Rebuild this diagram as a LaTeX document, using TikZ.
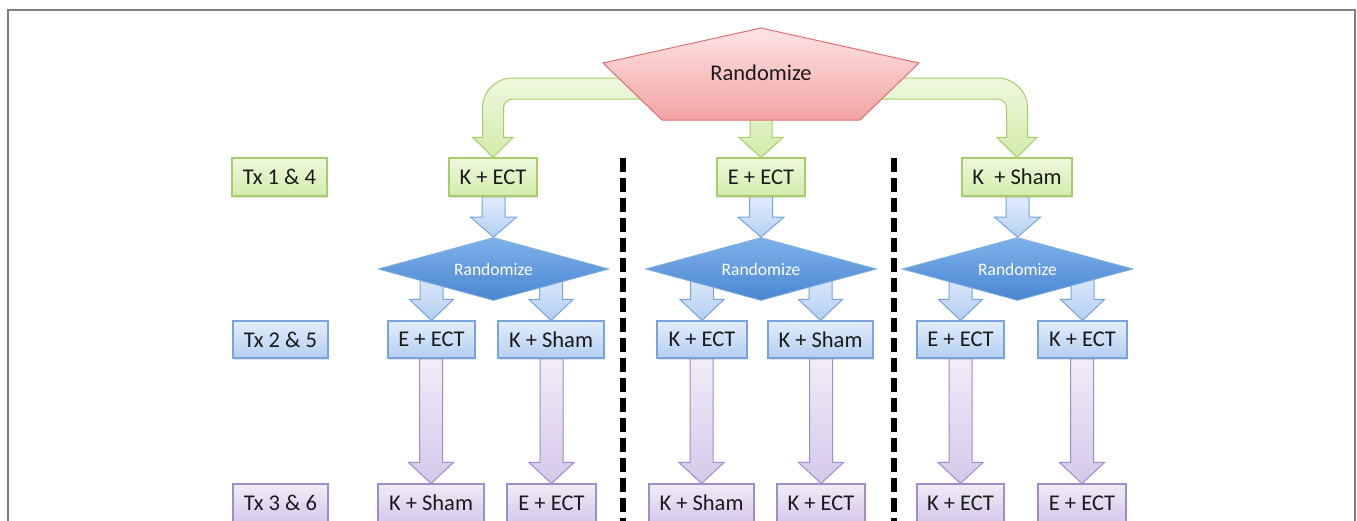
\documentclass[tikz,border=0pt]{standalone}
\usepackage{fontspec}
\setmainfont{Carlito}
\usetikzlibrary{calc,shapes.geometric,shadows}
\definecolor{gFillT}{HTML}{EEF8DE}
\definecolor{gFillB}{HTML}{D2ECAA}
\definecolor{gLine}{HTML}{A6CC6C}
\definecolor{bFillT}{HTML}{E2EDFB}
\definecolor{bFillB}{HTML}{B4CFF2}
\definecolor{bLine}{HTML}{7AA3DB}
\definecolor{pFillT}{HTML}{F1ECF7}
\definecolor{pFillB}{HTML}{D5C8EA}
\definecolor{pLine}{HTML}{A08CC8}
\definecolor{rFillT}{HTML}{FDE4E4}
\definecolor{rFillB}{HTML}{F3A3A3}
\definecolor{rLine}{HTML}{E07070}
\definecolor{dFillT}{HTML}{7DB2EA}
\definecolor{dFillB}{HTML}{4A86D0}
\definecolor{dLine}{HTML}{80AEE4}
\definecolor{frameGray}{HTML}{7F7F7F}
\definecolor{txt}{HTML}{1A1A1A}
\pgfdeclarelayer{bg}
\pgfdeclarelayer{paper}
\pgfsetlayers{paper,bg,main}
\newcommand{\blkarrow}[6]{%
  \path[#1] let \p1=#2, \p2=#3 in
  (\x2-#4,\y1) -- (\x2-#4,\y2+#6) -- (\x2-#5,\y2+#6) -- (\x2,\y2) --
  (\x2+#5,\y2+#6) -- (\x2+#4,\y2+#6) -- (\x2+#4,\y1) -- cycle;}
\begin{document}
\begin{tikzpicture}[x=1pt,y=1pt,
  boxbase/.style={rectangle, inner sep=0pt, line width=1.1pt, text=txt,
    font=\fontsize{22.5}{26}\selectfont,
    drop shadow={opacity=0.22, shadow xshift=1.2pt, shadow yshift=-1.8pt}},
  boxG/.style={boxbase, draw=gLine, top color=gFillT, bottom color=gFillB, minimum height=38pt},
  boxB/.style={boxbase, draw=bLine, top color=bFillT, bottom color=bFillB, minimum height=37pt},
  boxP/.style={boxbase, draw=pLine, top color=pFillT, bottom color=pFillB, minimum height=38pt},
  dia/.style={diamond, aspect=3.67, minimum width=231pt, minimum height=63pt, inner sep=0pt,
    draw=dLine, line width=0.8pt, top color=dFillT, bottom color=dFillB, text=white,
    font=\fontsize{17.5}{20}\selectfont},
  arrG/.style={draw=gLine, line width=1pt, top color=gFillT, bottom color=gFillB},
  arrB/.style={draw=bLine, line width=1pt, top color=bFillT, bottom color=bFillB},
  arrP/.style={draw=pLine, line width=1pt, top color=pFillT, bottom color=pFillB},
  pent/.style={draw=rLine, line width=1pt, top color=rFillT, bottom color=rFillB},
  sep/.style={line width=5.5pt, black, dash pattern=on 14pt off 6pt},
  frameline/.style={draw=frameGray, line width=2pt}]
\useasboundingbox (0,-520) rectangle (1357,0);
\clip (0,-520) rectangle (1357,0);
\begin{pgfonlayer}{paper}
\fill[white] (0,-520) rectangle (1357,0);
\end{pgfonlayer}
% frame
\draw[frameline] (7.5,-560) -- (7.5,-9.5) -- (1355,-9.5) -- (1355,-560);
% separators
\draw[sep] (623,-158) -- (623,-540);
\draw[sep] (894,-158) -- (894,-540);
% top randomize pentagon
\path[pent] (761,-28) -- (919,-63) -- (860,-120) -- (662,-120) -- (603,-63) -- cycle;
\node[text=txt, font=\fontsize{22.5}{26}\selectfont] (rz) at (761,-73) {Randomize};
% row labels
\node[boxG, minimum width=95pt] (tx14) at (279.5,-177) {Tx 1 \& 4};
\node[boxB, minimum width=95pt] (tx25) at (280.5,-339.5) {Tx 2 \& 5};
\node[boxP, minimum width=95pt] (tx36) at (280.5,-503) {Tx 3 \& 6};
% first treatment
\node[boxG, minimum width=88pt] (tK) at (493,-177) {K + ECT};
\node[boxG, minimum width=88pt] (tE) at (761,-177) {E + ECT};
\node[boxG, minimum width=110pt] (tS) at (1017,-177) {K~ + Sham};
% diamonds
\node[dia] (dL) at (493.5,-269) {Randomize};
\node[dia] (dM) at (761,-269) {Randomize};
\node[dia] (dR) at (1017.5,-269) {Randomize};
% second treatment
\node[boxB, minimum width=87pt] (mLa) at (431.5,-339.5) {E + ECT};
\node[boxB, minimum width=106pt] (mLb) at (551,-339.5) {K + Sham};
\node[boxB, minimum width=90pt] (mMa) at (702,-339.5) {K + ECT};
\node[boxB, minimum width=105pt] (mMb) at (820.5,-339.5) {K + Sham};
\node[boxB, minimum width=87pt] (mRa) at (960.5,-339.5) {E + ECT};
\node[boxB, minimum width=89pt] (mRb) at (1082.5,-339.5) {K + ECT};
% third treatment
\node[boxP, minimum width=106pt] (bLa) at (431,-503) {K + Sham};
\node[boxP, minimum width=89pt] (bLb) at (551.5,-503) {E + ECT};
\node[boxP, minimum width=105pt] (bMa) at (701.5,-503) {K + Sham};
\node[boxP, minimum width=88pt] (bMb) at (821,-503) {K + ECT};
\node[boxP, minimum width=87pt] (bRa) at (960.5,-503) {K + ECT};
\node[boxP, minimum width=88pt] (bRb) at (1082,-503) {E + ECT};
\begin{pgfonlayer}{bg}
% green arrows from the pentagon
\blkarrow{arrG}{(rz)}{(tE.north)}{11pt}{22pt}{20pt}
\path[arrG] let \p2=(tK.north) in
  (660pt,-78pt) -- (\x2+19.5pt,-78pt)
  .. controls (\x2+2.93pt,-78pt) and (\x2-10.5pt,-91.43pt) .. (\x2-10.5pt,-108pt)
  -- (\x2-10.5pt,\y2+20pt) -- (\x2-20pt,\y2+20pt) -- (\x2,\y2) -- (\x2+20pt,\y2+20pt)
  -- (\x2+10.5pt,\y2+20pt) -- (\x2+10.5pt,-108pt)
  .. controls (\x2+10.5pt,-103.03pt) and (\x2+14.53pt,-99pt) .. (\x2+19.5pt,-99pt)
  -- (660pt,-99pt) -- cycle;
\path[arrG] let \p2=(tS.north) in
  (860pt,-78pt) -- (\x2-19.5pt,-78pt)
  .. controls (\x2-2.93pt,-78pt) and (\x2+10.5pt,-91.43pt) .. (\x2+10.5pt,-108pt)
  -- (\x2+10.5pt,\y2+20pt) -- (\x2+20pt,\y2+20pt) -- (\x2,\y2) -- (\x2-20pt,\y2+20pt)
  -- (\x2-10.5pt,\y2+20pt) -- (\x2-10.5pt,-108pt)
  .. controls (\x2-10.5pt,-103.03pt) and (\x2-14.53pt,-99pt) .. (\x2-19.5pt,-99pt)
  -- (860pt,-99pt) -- cycle;
% blue arrows into diamonds
\blkarrow{arrB}{(tK.south)}{(dL.north)}{11.5pt}{23pt}{20pt}
\blkarrow{arrB}{(tE.south)}{(dM.north)}{11.5pt}{23pt}{20pt}
\blkarrow{arrB}{(tS.south)}{(dR.north)}{11.5pt}{23pt}{20pt}
% blue arrows out of diamonds
\blkarrow{arrB}{(dL.center)}{(mLa.north)}{11.5pt}{22pt}{21pt}
\blkarrow{arrB}{(dL.center)}{(mLb.north)}{11.5pt}{22pt}{21pt}
\blkarrow{arrB}{(dM.center)}{(mMa.north)}{11.5pt}{22pt}{21pt}
\blkarrow{arrB}{(dM.center)}{(mMb.north)}{11.5pt}{22pt}{21pt}
\blkarrow{arrB}{(dR.center)}{(mRa.north)}{11.5pt}{22pt}{21pt}
\blkarrow{arrB}{(dR.center)}{(mRb.north)}{11.5pt}{22pt}{21pt}
% purple arrows
\blkarrow{arrP}{(mLa.south)}{(bLa.north)}{11.5pt}{22.5pt}{21pt}
\blkarrow{arrP}{(mLb.south)}{(bLb.north)}{11.5pt}{22.5pt}{21pt}
\blkarrow{arrP}{(mMa.south)}{(bMa.north)}{11.5pt}{22.5pt}{21pt}
\blkarrow{arrP}{(mMb.south)}{(bMb.north)}{11.5pt}{22.5pt}{21pt}
\blkarrow{arrP}{(mRa.south)}{(bRa.north)}{11.5pt}{22.5pt}{21pt}
\blkarrow{arrP}{(mRb.south)}{(bRb.north)}{11.5pt}{22.5pt}{21pt}
\end{pgfonlayer}
\end{tikzpicture}
\end{document}
